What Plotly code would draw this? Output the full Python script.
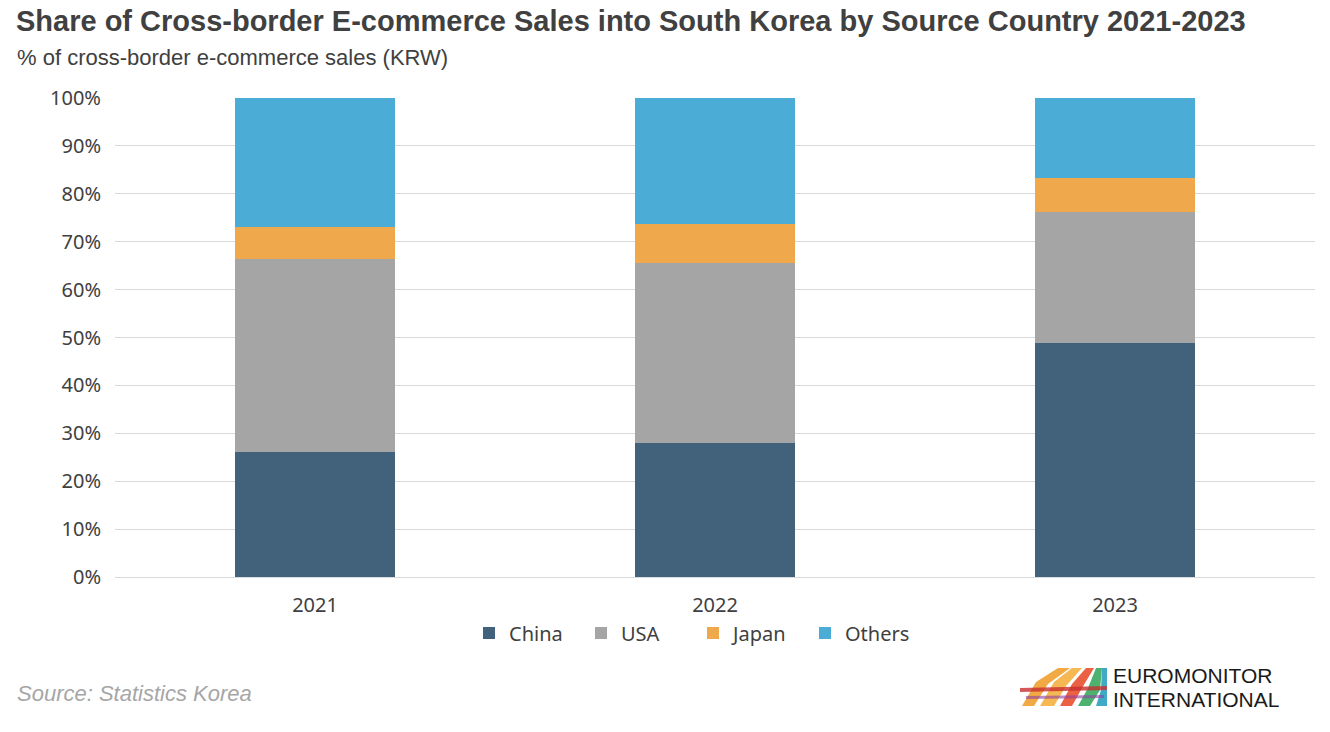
import plotly.graph_objects as go

years = ["2021", "2022", "2023"]
china = [26.0, 27.9, 48.8]
usa = [40.3, 37.6, 27.3]
japan = [6.7, 8.1, 7.1]
others = [27.0, 26.4, 16.8]

series_names = ["China", "USA", "Japan", "Others"]
series_values = [china, usa, japan, others]
series_colors = ["#41627A", "#A5A5A5", "#F0A84C", "#4BACD6"]

W, H = 1330, 732
ML, MR, MT, MB = 115, 15, 98, 155
PW, PH = W - ML - MR, H - MT - MB

def px(x):
    return (x - ML) / PW

def py(y):
    return (H - MB - y) / PH

fig = go.Figure()
for name, vals, col in zip(series_names, series_values, series_colors):
    fig.add_trace(go.Bar(x=years, y=vals, name=name, marker=dict(color=col, line=dict(width=0)),
                         hovertemplate="%{x} " + name + ": %{y:.1f}%<extra></extra>"))

fig.update_layout(
    width=W, height=H, barmode="stack", bargap=0.6,
    paper_bgcolor="white", plot_bgcolor="white",
    margin=dict(l=ML, r=MR, t=MT, b=MB, autoexpand=False),
    font=dict(family="Noto Sans, Liberation Sans, Arial", color="#404040", size=20),
    title=dict(text="Share of Cross-border E-commerce Sales into South Korea by Source Country 2021-2023",
               x=16 / W, xanchor="left", xref="container", y=1 - 21 / H, yanchor="middle", yref="container",
               font=dict(family="Liberation Sans, Arial", size=29, color="#404040", weight="bold")),
    xaxis=dict(showgrid=False, showline=True, linecolor="#D9D9D9", linewidth=1, ticks="",
               tickfont=dict(family="Noto Sans, Arial", size=20, color="#404040"), ticklabelstandoff=10),
    yaxis=dict(range=[0, 100], dtick=10, ticksuffix="%", showgrid=True, gridcolor="#D9D9D9", gridwidth=1,
               zeroline=False, showline=False, ticks="", ticklabelstandoff=13,
               tickfont=dict(family="Noto Sans, Arial", size=20, color="#404040")),
    legend=dict(orientation="h", x=0.5 - 22 / PW, xanchor="center", y=py(633), yanchor="middle",
                font=dict(family="Noto Sans, Arial", size=20, color="#404040"),
                entrywidth=67, traceorder="normal", bgcolor="rgba(0,0,0,0)"),
    showlegend=True,
)

# subtitle
fig.add_annotation(text="% of cross-border e-commerce sales (KRW)", xref="paper", yref="paper",
                   x=px(15), y=py(57), xanchor="left", yanchor="middle", showarrow=False,
                   font=dict(family="Liberation Sans, Arial", size=22, color="#404040"))
# source
fig.add_annotation(text="<i>Source: Statistics Korea</i>", xref="paper", yref="paper",
                   x=px(15), y=py(693), xanchor="left", yanchor="middle", showarrow=False,
                   font=dict(family="Liberation Sans, Arial", size=22, color="#A6A6A6"))
# logo text
fig.add_annotation(text="EUROMONITOR", xref="paper", yref="paper",
                   x=px(1111), y=py(687), xanchor="left", yanchor="bottom", showarrow=False,
                   height=20, valign="middle",
                   font=dict(family="Liberation Sans, Arial", size=21, color="#1A1A1A"))
fig.add_annotation(text="INTERNATIONAL", xref="paper", yref="paper",
                   x=px(1111), y=py(687), xanchor="left", yanchor="top", showarrow=False,
                   height=20, valign="middle",
                   font=dict(family="Liberation Sans, Arial", size=21, color="#1A1A1A"))

# logo graphic (decorative arches)
def poly(points, color, opacity=0.9):
    d = "M " + " L ".join(f"{px(x)},{py(y)}" for x, y in points) + " Z"
    fig.add_shape(type="path", path=d, xref="paper", yref="paper", fillcolor=color,
                  line=dict(width=0), opacity=opacity, layer="above")

poly([(1022, 706), (1036, 682), (1058, 668), (1070, 668), (1048, 684), (1034, 706)], "#F0A030")
poly([(1040, 706), (1054, 682), (1072, 668), (1082, 668), (1066, 686), (1054, 706)], "#F5B040")
poly([(1060, 706), (1072, 684), (1086, 668), (1094, 668), (1082, 688), (1072, 706)], "#E85030")
poly([(1078, 706), (1088, 688), (1096, 668), (1102, 668), (1100, 690), (1090, 706)], "#3AA860")
poly([(1096, 706), (1101, 690), (1102, 668), (1107, 668), (1107, 706)], "#2AA0C0")
poly([(1020, 688), (1107, 686), (1107, 690), (1020, 692)], "#C83030", 0.8)
poly([(1026, 696), (1104, 695), (1104, 698), (1026, 699)], "#9040A0", 0.6)

fig.write_html("out.html")
